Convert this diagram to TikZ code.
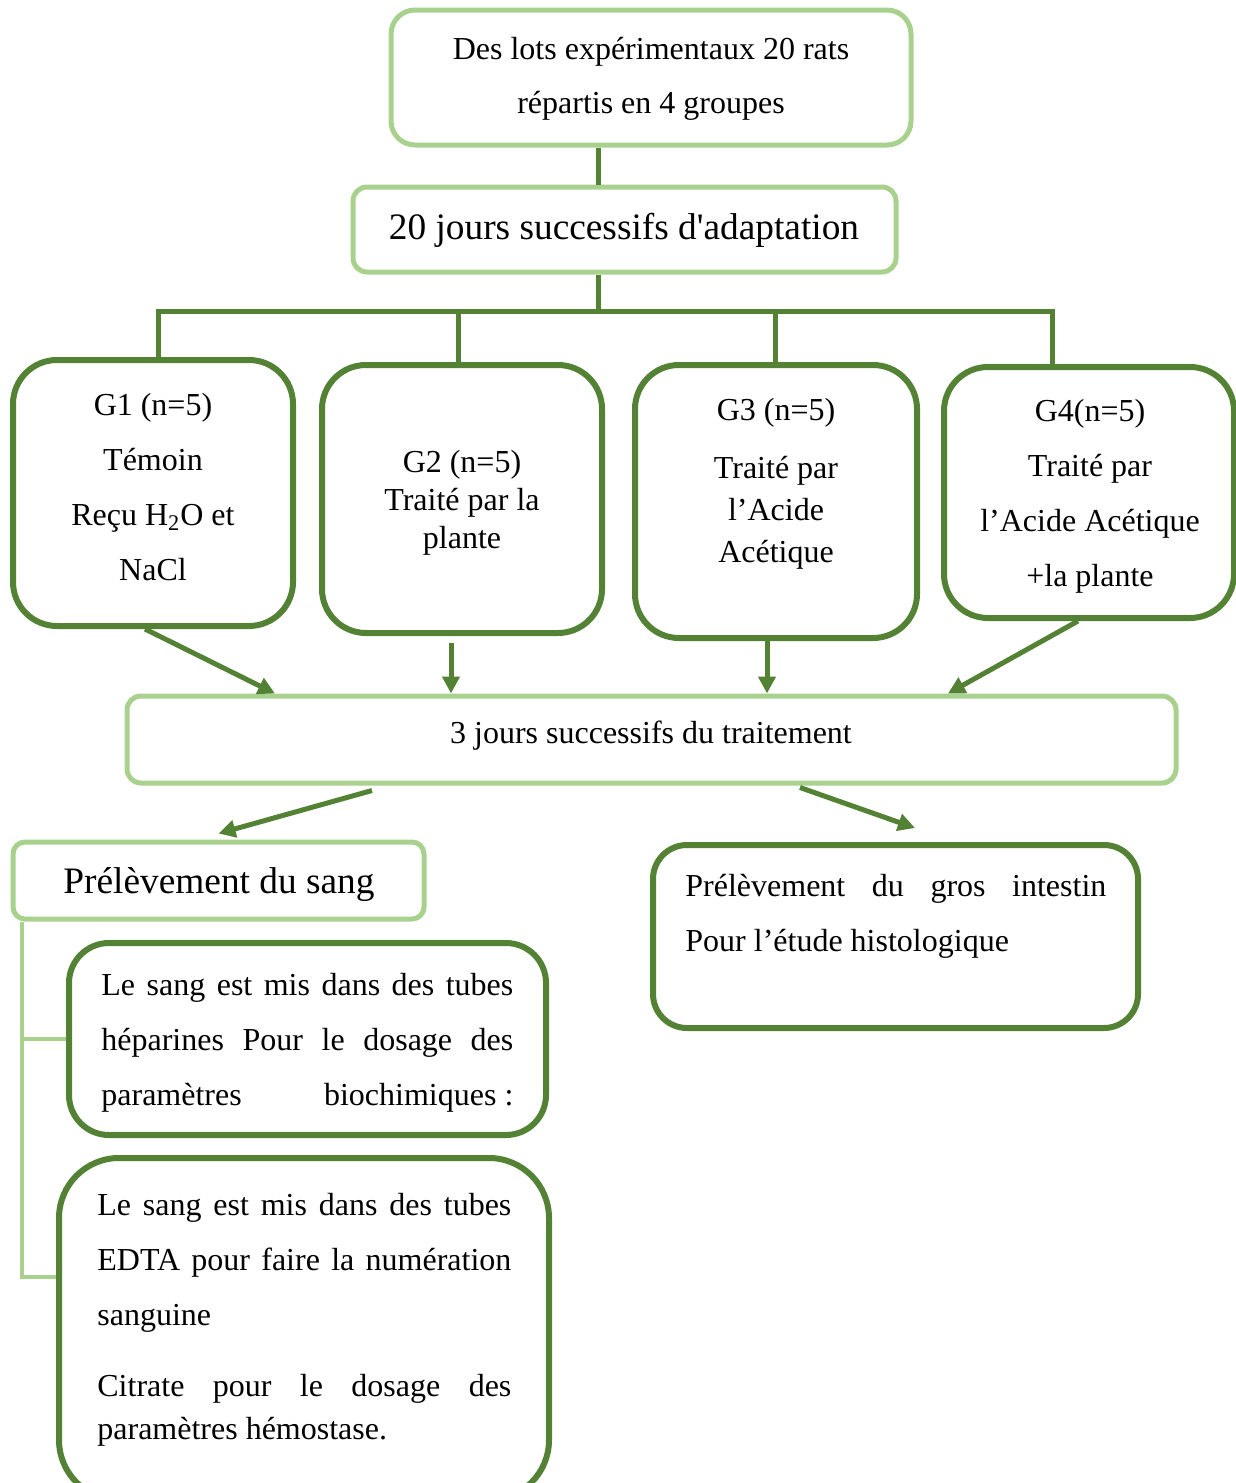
\documentclass[tikz,border=0pt]{standalone}
\usepackage{fontspec}
\setmainfont{Liberation Serif}
\usetikzlibrary{arrows.meta}

\definecolor{lightgreen}{HTML}{A9D18E}
\definecolor{darkgreen}{HTML}{548235}

% justified line, spaces stretched to the full width
\newcommand{\jline}[1]{\leavevmode\hbox to \linewidth{\spaceskip=0.25em plus 1fil\relax #1}}
% centred lines with the font's own spaces
\newcommand{\ctr}{\centering\spaceskip=0pt\relax}

\tikzset{
  lightbox/.style={draw=lightgreen, line width=2.5pt, rounded corners=7pt, inner sep=0pt},
  darkbox/.style={draw=darkgreen, line width=3pt, rounded corners=22pt, inner sep=0pt},
  txt/.style={inner sep=0pt, anchor=base, font=\fontsize{16}{27.5}\selectfont},
  bigtxt/.style={inner sep=0pt, anchor=base, font=\fontsize{18.67}{28}\selectfont},
  link/.style={draw=darkgreen, line width=2.5pt},
  arr/.style={link, -{Triangle[length=8.5pt,width=8.5pt]}},
  branch/.style={draw=lightgreen, line width=2pt},
}

\begin{document}
\begin{tikzpicture}[x=0.5pt, y=-0.5pt]
    \useasboundingbox (0,0) rectangle (1236,1483);

    % boxes
    \node[lightbox, rounded corners=12pt, minimum width=260pt, minimum height=67.5pt] (lots) at (651,77.5) {};
    \node[lightbox, minimum width=271.5pt, minimum height=42.5pt] (adapt) at (624.5,229.5) {};
    \node[darkbox, minimum width=140pt, minimum height=133pt] (g1) at (153,493) {};
    \node[darkbox, minimum width=140pt, minimum height=134pt] (g2) at (462,499) {};
    \node[darkbox, minimum width=141pt, minimum height=136.5pt] (g3) at (776,501.5) {};
    \node[darkbox, minimum width=145pt, minimum height=125.5pt] (g4) at (1089,492.5) {};
    \node[lightbox, minimum width=524.5pt, minimum height=43.5pt] (trait) at (651.5,739.5) {};
    \node[lightbox, rounded corners=6pt, minimum width=205.5pt, minimum height=38.5pt] (sang) at (218.5,880.5) {};
    \node[darkbox, rounded corners=20pt, minimum width=238.5pt, minimum height=96pt] (hep) at (307.5,1039) {};
    \node[darkbox, rounded corners=30pt, minimum width=245pt, minimum height=171pt] (edta) at (304,1329) {};
    \node[darkbox, rounded corners=17pt, minimum width=242.5pt, minimum height=91.5pt] (intest) at (895.5,936.5) {};

    % texts
    \node[txt, text width=250pt] (lotstxt) at (651,59) {\ctr Des lots expérimentaux 20 rats\\répartis en 4 groupes\par};
    \node[bigtxt] (adapttxt) at (624,239) {20 jours successifs d\textquotesingle adaptation};
    \node[txt, text width=130pt] (g1txt) at (153,415) {\ctr G1 (n=5)\\Témoin\\Reçu H\textsubscript{2}O et\\NaCl\par};
    \node[txt, text width=130pt] (g2txt) at (462,472) {\ctr G2 (n=5)\\[-8.5pt]Traité par la\\[-8.5pt]plante\par};
    \node[txt, text width=130pt] (g3txt) at (776,420) {\ctr G3 (n=5)\\[1.5pt]Traité par\\[-6.5pt]l’Acide\\[-6.5pt]Acétique\par};
    \node[txt, text width=140pt] (g4txt) at (1090,421) {\ctr G4(n=5)\\Traité par\\l’Acide Acétique\\+la plante\par};
    \node[txt] (traittxt) at (651,743) {3 jours successifs du traitement};
    \node[bigtxt, anchor=base west] (sangtxt) at (63,893) {Prélèvement du sang};
    \node[txt, anchor=base west, text width=206pt] (heptxt) at (101,995)
      {\jline{Le sang est mis dans des tubes}\\
       \jline{héparines Pour le dosage des}\\
       \jline{paramètres biochimiques\kern.25em:}};
    \node[txt, anchor=base west, text width=207pt] (edtatxt) at (97,1215)
      {\jline{Le sang est mis dans des tubes}\\
       \jline{EDTA pour faire la numération}\\
       \spaceskip=0pt\relax sanguine\\[8pt]
       \jline{Citrate pour le dosage des}\\[-6pt]
       paramètres hémostase.};
    \node[txt, anchor=base west, text width=210.5pt] (intesttxt) at (685,896)
      {\jline{Prélèvement du gros intestin}\\
       \spaceskip=0pt\relax Pour l’étude histologique};

    % connectors
    \coordinate (hub) at (598,311);
    \coordinate (d1) at (158,311);
    \coordinate (d2) at (458,311);
    \coordinate (d3) at (775,311);
    \coordinate (d4) at (1052,311);
    \draw[link] (lots.south -| hub) -- (adapt.north -| hub);
    \draw[link] (adapt.south -| hub) -- (hub);
    \draw[link] (d1 |- g1.north) -- (d1) -- (d4) -- (d4 |- g4.north);
    \draw[link] (d2) -- (d2 |- g2.north);
    \draw[link] (d3) -- (d3 |- g3.north);

    \draw[arr] ([xshift=-4pt]g1.south) -- ([xshift=-188.25pt]trait.north);
    \draw[arr] ([xshift=-5.5pt,yshift=-3.5pt]g2.south) -- ([xshift=-100.25pt]trait.north);
    \draw[arr] ([xshift=-4.5pt]g3.south) -- ([xshift=57.75pt]trait.north);
    \draw[arr] ([xshift=-5.5pt]g4.south) -- ([xshift=148.25pt]trait.north);
    \draw[arr] ([xshift=-139.75pt,yshift=-2.5pt]trait.south) -- ([yshift=3pt]sang.north);
    \draw[arr] ([xshift=74.25pt,yshift=-1pt]trait.south) -- ([xshift=9.75pt,yshift=7pt]intest.north);

    \coordinate (stem) at ([xshift=5.5pt]sang.south west);
    \draw[branch] (stem) |- ([yshift=26pt]edta.west);
    \draw[branch] (stem |- hep.west) -- (hep.west);
\end{tikzpicture}
\end{document}
